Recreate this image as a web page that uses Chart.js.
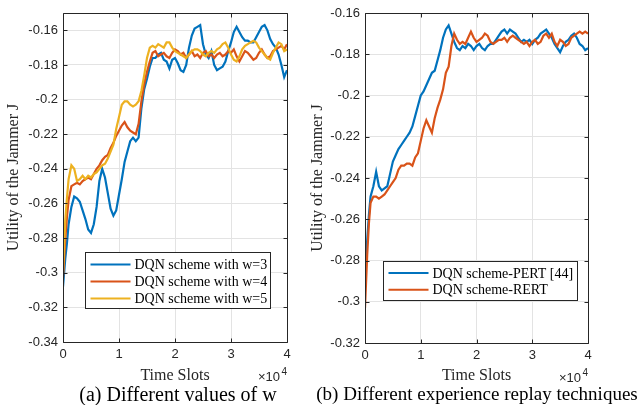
<!DOCTYPE html>
<html>
<head>
<meta charset="utf-8">
<script src="https://cdn.jsdelivr.net/npm/chart.js@4.4.1/dist/chart.umd.min.js"></script>
<style>
    html, body { margin: 0; padding: 0; background: #fff; }
    #wrap { position: relative; width: 643px; height: 405px; overflow: hidden; }
    .pane { position: absolute; top: 0; height: 405px; }
    #paneA { left: 0; width: 300px; }
    #paneB { left: 300px; width: 343px; }
    .cap { position: absolute; top: 384px; line-height: 20px; font-family: "Liberation Serif", serif; font-size: 20px; color: #000; white-space: nowrap; transform: translateX(-50%); }
</style>
</head>
<body>
<div id="wrap">
    <div class="pane" id="paneA"><canvas id="chartA" width="300" height="405"></canvas></div>
    <div class="pane" id="paneB"><canvas id="chartB" width="343" height="405"></canvas></div>
    <div class="cap" style="left:178px">(a) Different values of w</div>
    <div class="cap" style="left:477px; font-size:19px">(b) Different experience replay techniques</div>
</div>
<script>
// time slots (x) shared by every curve
const X_SLOTS = [0, 200, 400, 700, 1000, 1500, 2000, 2500, 3000, 3500,
    4000, 4500, 5000, 5500, 6000, 6500, 7000, 7500, 8000, 8500,
    9000, 9500, 10000, 10500, 11000, 11500, 12000, 12500, 13000, 13500,
    14000, 14500, 15000, 15500, 16000, 16500, 17000, 17500, 18000, 18500,
    19000, 19500, 20000, 20500, 21000, 21500, 22000, 22500, 23000, 23500,
    24000, 24500, 25000, 25500, 26000, 26500, 27000, 27500, 28000, 28500,
    29000, 29500, 30000, 30500, 31000, 31500, 32000, 32500, 33000, 33500,
    34000, 34500, 35000, 35500, 36000, 36500, 37000, 37500, 38000, 38500,
    39000, 39500, 40000];

// (a) different values of w
const W3 = [-0.308, -0.300, -0.292, -0.283, -0.272, -0.262, -0.256, -0.257, -0.259, -0.264,
    -0.269, -0.275, -0.277, -0.272, -0.262, -0.247, -0.240, -0.245, -0.254, -0.263,
    -0.267, -0.264, -0.255, -0.246, -0.236, -0.230, -0.224, -0.222, -0.224, -0.222,
    -0.205, -0.194, -0.188, -0.181, -0.176, -0.176, -0.174, -0.173, -0.177, -0.178,
    -0.182, -0.177, -0.176, -0.179, -0.183, -0.184, -0.180, -0.170, -0.163, -0.159,
    -0.158, -0.157, -0.168, -0.174, -0.176, -0.172, -0.180, -0.183, -0.182, -0.181,
    -0.178, -0.172, -0.167, -0.161, -0.158, -0.161, -0.164, -0.166, -0.166, -0.167,
    -0.167, -0.164, -0.161, -0.158, -0.157, -0.160, -0.165, -0.168, -0.170, -0.174,
    -0.180, -0.187, -0.183];
const W4 = [-0.303, -0.292, -0.281, -0.268, -0.258, -0.250, -0.249, -0.248, -0.249, -0.247,
    -0.246, -0.245, -0.246, -0.243, -0.240, -0.238, -0.235, -0.233, -0.232, -0.228,
    -0.225, -0.221, -0.218, -0.215, -0.213, -0.216, -0.218, -0.219, -0.220, -0.214,
    -0.201, -0.191, -0.184, -0.178, -0.173, -0.172, -0.175, -0.174, -0.173, -0.175,
    -0.176, -0.173, -0.171, -0.172, -0.174, -0.173, -0.176, -0.174, -0.172, -0.175,
    -0.174, -0.176, -0.173, -0.172, -0.175, -0.174, -0.176, -0.174, -0.173, -0.175,
    -0.174, -0.172, -0.173, -0.171, -0.175, -0.178, -0.175, -0.172, -0.173, -0.175,
    -0.177, -0.176, -0.173, -0.171, -0.174, -0.176, -0.175, -0.172, -0.171, -0.170,
    -0.169, -0.171, -0.168];
const W5 = [-0.300, -0.285, -0.270, -0.257, -0.246, -0.238, -0.240, -0.247, -0.246, -0.244,
    -0.246, -0.244, -0.245, -0.243, -0.242, -0.240, -0.238, -0.237, -0.234, -0.230,
    -0.226, -0.217, -0.210, -0.203, -0.201, -0.201, -0.203, -0.204, -0.203, -0.201,
    -0.195, -0.186, -0.176, -0.170, -0.169, -0.170, -0.168, -0.169, -0.170, -0.167,
    -0.167, -0.170, -0.172, -0.173, -0.174, -0.175, -0.176, -0.174, -0.172, -0.171,
    -0.171, -0.172, -0.174, -0.175, -0.173, -0.172, -0.173, -0.171, -0.170, -0.168,
    -0.167, -0.170, -0.174, -0.177, -0.178, -0.175, -0.171, -0.169, -0.168, -0.167,
    -0.166, -0.167, -0.170, -0.172, -0.174, -0.176, -0.177, -0.173, -0.170, -0.167,
    -0.168, -0.172, -0.171];

// (b) different experience replay techniques
const PERT = [-0.287, -0.278, -0.270, -0.258, -0.249, -0.244, -0.237, -0.244, -0.246, -0.245,
    -0.244, -0.238, -0.232, -0.229, -0.226, -0.224, -0.222, -0.220, -0.218, -0.215,
    -0.210, -0.205, -0.200, -0.198, -0.195, -0.192, -0.189, -0.188, -0.183, -0.178,
    -0.172, -0.168, -0.166, -0.170, -0.174, -0.177, -0.178, -0.176, -0.177, -0.175,
    -0.176, -0.178, -0.176, -0.175, -0.177, -0.178, -0.176, -0.175, -0.175, -0.173,
    -0.171, -0.169, -0.168, -0.170, -0.168, -0.169, -0.170, -0.172, -0.174, -0.173,
    -0.174, -0.173, -0.175, -0.173, -0.172, -0.170, -0.169, -0.168, -0.170, -0.172,
    -0.175, -0.177, -0.179, -0.176, -0.174, -0.173, -0.171, -0.170, -0.172, -0.175,
    -0.176, -0.178, -0.177];
const RERT = [-0.303, -0.290, -0.277, -0.262, -0.252, -0.249, -0.249, -0.250, -0.249, -0.248,
    -0.246, -0.244, -0.242, -0.240, -0.236, -0.234, -0.234, -0.233, -0.233, -0.234,
    -0.230, -0.228, -0.222, -0.216, -0.212, -0.215, -0.218, -0.211, -0.206, -0.202,
    -0.197, -0.189, -0.186, -0.176, -0.170, -0.173, -0.175, -0.174, -0.175, -0.172,
    -0.169, -0.172, -0.174, -0.173, -0.172, -0.170, -0.171, -0.174, -0.175, -0.174,
    -0.173, -0.173, -0.172, -0.174, -0.172, -0.171, -0.172, -0.173, -0.174, -0.175,
    -0.174, -0.176, -0.174, -0.173, -0.175, -0.174, -0.171, -0.170, -0.172, -0.170,
    -0.174, -0.176, -0.173, -0.174, -0.176, -0.175, -0.172, -0.171, -0.170, -0.169,
    -0.170, -0.169, -0.170];

const X_TICKS = [0, 10000, 20000, 30000, 40000];
const Y_TICKS_A = [-0.34, -0.32, -0.3, -0.28, -0.26, -0.24, -0.22, -0.2, -0.18, -0.16];
const Y_TICKS_B = [-0.32, -0.3, -0.28, -0.26, -0.24, -0.22, -0.2, -0.18, -0.16];

const BLUE = '#0072BD', ORANGE = '#D95319', YELLOW = '#EDB120';
const INK = '#262626';
const SANS = '"Liberation Sans", Arial, sans-serif';
const SERIF = '"Liberation Serif", "Times New Roman", serif';

// box, inward ticks, legend and exponent, like a matlab axes
const matlabBox = {
    id: 'matlabBox',
    afterDatasetsDraw(chart, args, o) {
        const { ctx, chartArea: a, scales: { x, y } } = chart;
        const L = Math.round(a.left) + 0.5, R = Math.round(a.right) + 0.5;
        const T = Math.round(a.top) + 0.5, B = Math.round(a.bottom) + 0.5;
        ctx.save();
        ctx.strokeStyle = INK;
        ctx.lineWidth = 1;
        ctx.beginPath();
        x.ticks.forEach(t => {
            const px = Math.round(x.getPixelForValue(t.value)) + 0.5;
            ctx.moveTo(px, B); ctx.lineTo(px, B - 4);
            ctx.moveTo(px, T); ctx.lineTo(px, T + 4);
        });
        y.ticks.forEach(t => {
            const py = Math.round(y.getPixelForValue(t.value)) + 0.5;
            ctx.moveTo(L, py); ctx.lineTo(L + 4, py);
            ctx.moveTo(R, py); ctx.lineTo(R - 4, py);
        });
        ctx.rect(L, T, R - L, B - T);
        ctx.stroke();

        // legend
        const lg = o.legend;
        const bx = Math.round(a.left + lg.dx) + 0.5, by = Math.round(a.bottom - lg.dy) + 0.5;
        ctx.fillStyle = '#fff';
        ctx.fillRect(bx, by, lg.w, lg.h);
        ctx.strokeStyle = INK;
        ctx.strokeRect(bx, by, lg.w, lg.h);
        ctx.font = '14px ' + SERIF;
        ctx.textBaseline = 'middle';
        ctx.textAlign = 'left';
        chart.data.datasets.forEach((ds, i) => {
            const ry = by + lg.first + i * lg.row;
            ctx.strokeStyle = ds.borderColor;
            ctx.lineWidth = 2;
            ctx.beginPath();
            ctx.moveTo(bx + 5, ry); ctx.lineTo(bx + 45, ry);
            ctx.stroke();
            ctx.fillStyle = '#000';
            ctx.fillText(ds.label, bx + 49, ry + 1);
        });

        // x10^4 exponent
        ctx.fillStyle = INK;
        ctx.textAlign = 'right';
        ctx.font = '10px ' + SANS;
        ctx.fillText('4', a.right, a.bottom + 30);
        ctx.font = '13px ' + SANS;
        ctx.fillText('\u00d710', a.right - 7, a.bottom + 35);
        ctx.restore();
    }
};

function buildChart(id, series, yMin, yMax, yTicks, view) {
    return new Chart(document.getElementById(id), {
        type: 'line',
        data: {
            datasets: series.map((s, i) => ({
                label: s.label,
                data: X_SLOTS.map((t, k) => ({ x: t, y: s.values[k] })),
                borderColor: s.color,
                borderWidth: 2.2,
                pointRadius: 0,
                tension: 0,
                order: series.length - i
            }))
        },
        options: {
            responsive: false,
            animation: false,
            devicePixelRatio: 1,
            layout: { padding: { left: 0, top: view.top, right: view.right, bottom: 0 } },
            plugins: {
                legend: { display: false },
                tooltip: { enabled: false },
                matlabBox: { legend: view.legend }
            },
            scales: {
                x: {
                    type: 'linear', min: 0, max: 40000,
                    afterBuildTicks: s => { s.ticks = X_TICKS.map(v => ({ value: v })); },
                    afterFit: s => { s.height = view.xh; },
                    grid: { color: '#e3e3e3', drawTicks: false },
                    border: { display: false },
                    ticks: { padding: 5, color: INK, font: { family: SANS, size: 13 }, maxRotation: 0,
                        callback: v => String(v / 10000) },
                    title: { display: true, text: 'Time Slots', color: INK,
                        font: { family: SERIF, size: 16 }, padding: { top: 0, bottom: 20 } }
                },
                y: {
                    type: 'linear', min: yMin, max: yMax,
                    afterBuildTicks: s => { s.ticks = yTicks.map(v => ({ value: v })); },
                    afterFit: s => { s.width = view.yw; },
                    grid: { color: '#e3e3e3', drawTicks: false },
                    border: { display: false },
                    ticks: { padding: 5, color: INK, font: { family: SANS, size: 13 },
                        callback: v => String(+v.toFixed(2)) },
                    title: { display: true, text: 'Utility of the Jammer J', color: INK,
                        font: { family: SERIF, size: 16 }, padding: { top: view.titlePad, bottom: 0 } }
                }
            }
        },
        plugins: [matlabBox]
    });
}

buildChart('chartA', [
    { label: 'DQN scheme with w=3', values: W3, color: BLUE },
    { label: 'DQN scheme with w=4', values: W4, color: ORANGE },
    { label: 'DQN scheme with w=5', values: W5, color: YELLOW }
], -0.34, -0.15, Y_TICKS_A, {
    top: 13, right: 13, yw: 63, xh: 63, titlePad: 4,
    legend: { dx: 22, dy: 90, w: 185, h: 56, first: 12, row: 17 }
});

buildChart('chartB', [
    { label: 'DQN scheme-PERT [44]', values: PERT, color: BLUE },
    { label: 'DQN scheme-RERT', values: RERT, color: ORANGE }
], -0.32, -0.16, Y_TICKS_B, {
    top: 13, right: 55, yw: 65, xh: 62, titlePad: 8,
    legend: { dx: 18, dy: 82, w: 194, h: 39, first: 11.5, row: 16.8 }
});
</script>
</body>
</html>
